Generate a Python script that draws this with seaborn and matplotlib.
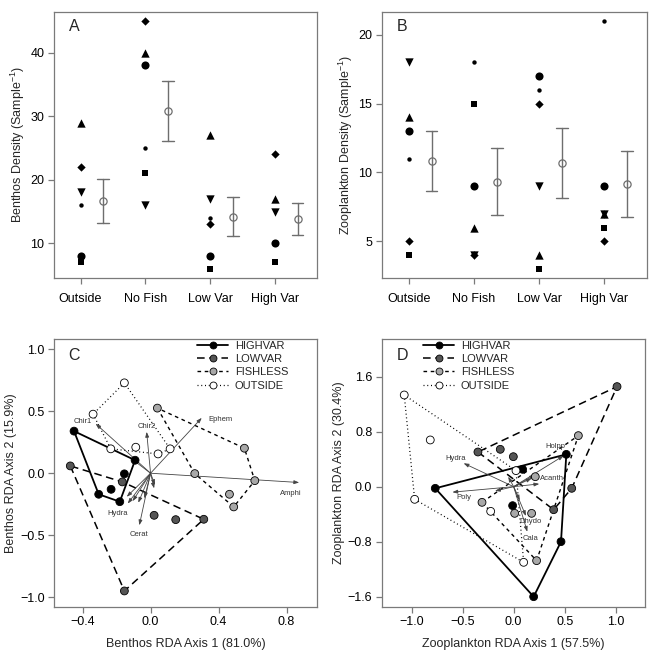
import numpy as np
import pandas as pd
import seaborn as sns
import matplotlib.pyplot as plt
from matplotlib.lines import Line2D

# ---- panels A/B: densities per treatment, one value per pond symbol
categories = ["Outside", "No Fish", "Low Var", "High Var"]

benthos_circle = [8, 38, 8, 10]
benthos_dot = [16, 25, 14, 10]
benthos_up = [29, 40, 27, 17]
benthos_down = [18, 16, 17, 15]
benthos_diamond = [22, 45, 13, 24]
benthos_square = [7, 21, 6, 7]

zoop_circle = [13, 9, 17, 9]
zoop_dot = [11, 18, 16, 21]
zoop_up = [14, 6, 4, 7]
zoop_down = [18, 4, 9, 7]
zoop_diamond = [5, 4, 15, 5]
zoop_square = [4, 15, 3, 6]

# ---- panels C/D: RDA site scores
groups = ["HIGHVAR", "LOWVAR", "FISHLESS", "OUTSIDE"]

benthos_highvar_x = [-0.45, -0.091, -0.154, -0.232, -0.305, -0.181]
benthos_highvar_y = [0.34, 0.105, -0.005, -0.13, -0.17, -0.23]
benthos_lowvar_x = [-0.472, -0.166, 0.021, 0.148, 0.313, -0.154]
benthos_lowvar_y = [0.059, -0.07, -0.34, -0.375, -0.372, -0.951]
benthos_fishless_x = [0.04, 0.552, 0.26, 0.613, 0.464, 0.489]
benthos_fishless_y = [0.526, 0.202, -0.003, -0.06, -0.17, -0.272]
benthos_outside_x = [-0.154, -0.338, -0.234, -0.087, 0.044, 0.115]
benthos_outside_y = [0.73, 0.477, 0.197, 0.21, 0.156, 0.197]

zoop_highvar_x = [-0.768, 0.516, 0.088, -0.01, 0.464, 0.196]
zoop_highvar_y = [-0.024, 0.47, 0.252, -0.276, -0.8, -1.6]
zoop_lowvar_x = [1.013, -0.35, -0.131, -0.003, 0.569, 0.392]
zoop_lowvar_y = [1.455, 0.504, 0.543, 0.436, -0.024, -0.335]
zoop_fishless_x = [0.634, 0.212, -0.31, 0.01, 0.176, 0.225]
zoop_fishless_y = [0.742, 0.145, -0.228, -0.388, -0.388, -1.076]
zoop_outside_x = [-1.072, -0.817, -0.97, -0.225, 0.023, 0.098]
zoop_outside_y = [1.333, 0.679, -0.184, -0.359, 0.233, -1.1]

# species arrows (blank name = unlabeled)
benthos_sp = ["Ephem", "Amphi", "Chir1", "Chir2", "Hydra", "Cerat", "", "", "", "", "", "", ""]
benthos_sp_x = [0.301, 0.874, -0.323, -0.023, -0.134, -0.066, -0.107, -0.14, -0.105, -0.072, -0.036, 0.021, 0.026]
benthos_sp_y = [0.447, -0.075, 0.40, 0.334, -0.245, -0.42, 0.112, -0.19, -0.225, -0.238, -0.203, -0.122, -0.095]

zoop_sp = ["Holpp", "Hydra", "Acanth", "Poly", "Dhydo", "Cala", "", "", "", "", ""]
zoop_sp_x = [0.49, -0.49, 0.251, -0.6, 0.12, 0.134, -0.053, 0.176, 0.209, -0.183, 0.06]
zoop_sp_y = [0.45, 0.34, 0.04, -0.08, -0.426, -0.655, 0.145, 0.122, 0.17, -0.063, -0.2]

sns.set_style("ticks")
plt.rcParams['font.family'] = ['Liberation Sans', 'DejaVu Sans']
plt.rcParams['mathtext.default'] = 'regular'

FS = 9
GRAY = '#7a7a7a'

fig = plt.figure(figsize=(6.56, 6.56), dpi=100)
axA = fig.add_axes([0.0823, 0.5762, 0.4009, 0.4055])
axB = fig.add_axes([0.5823, 0.5762, 0.4035, 0.4055])
axC = fig.add_axes([0.0828, 0.0752, 0.3997, 0.4076])
axD = fig.add_axes([0.5823, 0.0752, 0.4014, 0.4076])


def frame(ax):
    for s in ax.spines.values():
        s.set_color(GRAY)
        s.set_linewidth(0.9)
    ax.tick_params(direction='out', length=4, width=0.9, color=GRAY,
                   labelsize=FS, labelcolor='black', pad=3)


def fmt(ticks):
    return [f"{t:.1f}".replace('-', '\u2212') for t in ticks]


shape_style = {  # marker, area
    'circle': ('o', 34),
    'dot': ('o', 10),
    'up': ('^', 36),
    'down': ('v', 36),
    'diamond': ('D', 18),
    'square': ('s', 20),
}


def density_panel(ax, vals, ylim, yticks, ylabel, letter):
    rows = []
    for shape, v in vals.items():
        for i, val in enumerate(v):
            rows.append({'cat': i, 'shape': shape, 'value': val})
    df = pd.DataFrame(rows)
    for shape, (m, s) in shape_style.items():
        sub = df[df['shape'] == shape]
        sns.scatterplot(data=sub, x='cat', y='value', marker=m, s=s, color='black',
                        linewidth=0, ax=ax, legend=False, zorder=3)
    # mean +/- SE, offset to the right of each group
    df['mpos'] = df['cat'] + 0.35
    sns.pointplot(data=df, x='mpos', y='value', native_scale=True, errorbar='se',
                  capsize=0.18, color='#6e6e6e', linestyle='none', marker='o',
                  markersize=5.2, markerfacecolor='white', markeredgewidth=0.9,
                  err_kws={'linewidth': 1.0}, ax=ax)
    ax.set_xlim(-0.41, 3.65)
    ax.set_xticks(range(4))
    ax.set_xticklabels(categories)
    ax.set_ylim(*ylim)
    ax.set_yticks(yticks)
    ax.set_yticklabels([str(t) for t in yticks])
    ax.set_xlabel('')
    ax.set_ylabel(ylabel, fontsize=FS, labelpad=2)
    ax.text(0.076, 0.944, letter, transform=ax.transAxes, fontsize=11.5,
            ha='center', va='center')
    frame(ax)
    ax.tick_params(axis='x', pad=7)


density_panel(axA, {'circle': benthos_circle, 'dot': benthos_dot, 'up': benthos_up,
                    'down': benthos_down, 'diamond': benthos_diamond, 'square': benthos_square},
              (4.54, 46.4), [10, 20, 30, 40], 'Benthos Density (Sample$^{-1}$)', 'A')
density_panel(axB, {'circle': zoop_circle, 'dot': zoop_dot, 'up': zoop_up,
                    'down': zoop_down, 'diamond': zoop_diamond, 'square': zoop_square},
              (2.34, 21.65), [5, 10, 15, 20], 'Zooplankton Density (Sample$^{-1}$)', 'B')


fills = {'HIGHVAR': 'black', 'LOWVAR': '#555555', 'FISHLESS': '#a8a8a8', 'OUTSIDE': 'white'}
lstyle = {'HIGHVAR': ('-', 1.3), 'LOWVAR': ((0, (5, 3)), 1.1),
          'FISHLESS': ((0, (2.6, 2.6)), 1.0), 'OUTSIDE': ((0, (0.8, 2.2)), 0.9)}


def convex_hull(pts):
    pts = sorted(set(pts))
    def cross(o, a, b):
        return (a[0] - o[0]) * (b[1] - o[1]) - (a[1] - o[1]) * (b[0] - o[0])
    lower, upper = [], []
    for p in pts:
        while len(lower) >= 2 and cross(lower[-2], lower[-1], p) <= 0:
            lower.pop()
        lower.append(p)
    for p in reversed(pts):
        while len(upper) >= 2 and cross(upper[-2], upper[-1], p) <= 0:
            upper.pop()
        upper.append(p)
    h = lower[:-1] + upper[:-1]
    return h + [h[0]]


def rda_panel(ax, sites, sp, spx, spy, offsets, xlim, ylim, xticks, yticks,
              xlabel, ylabel, letter, leg_x):
    rows = []
    for g, (xs, ys) in sites.items():
        for x, y in zip(xs, ys):
            rows.append({'group': g, 'x': x, 'y': y})
    df = pd.DataFrame(rows)
    for g in groups:
        sub = df[df['group'] == g]
        h = np.array(convex_hull(list(zip(sub['x'], sub['y']))))
        ls, lw = lstyle[g]
        ax.plot(h[:, 0], h[:, 1], color='black', linestyle=ls, linewidth=lw, zorder=2)
    sns.scatterplot(data=df, x='x', y='y', hue='group', hue_order=groups, palette=fills,
                    s=32, edgecolor='black', linewidth=0.6, legend=False, ax=ax, zorder=4)
    for name, x, y in zip(sp, spx, spy):
        ax.annotate('', xy=(x, y), xytext=(0, 0),
                    arrowprops=dict(arrowstyle='-|>,head_length=0.5,head_width=0.18',
                                    color='#444444', lw=0.6, shrinkA=0, shrinkB=0,
                                    mutation_scale=6), zorder=3)
        if name:
            ax.annotate(name, xy=(x, y), xytext=offsets[name], textcoords='offset points',
                        fontsize=5.5, color='#333333', ha='center', va='center', zorder=5)
    ax.set_xlim(*xlim)
    ax.set_ylim(*ylim)
    ax.set_xticks(xticks)
    ax.set_xticklabels(fmt(xticks))
    ax.set_yticks(yticks)
    ax.set_yticklabels(fmt(yticks))
    ax.set_xlabel(xlabel, fontsize=FS, labelpad=7)
    ax.set_ylabel(ylabel, fontsize=FS, labelpad=2)
    ax.text(0.076, 0.941, letter, transform=ax.transAxes, fontsize=11.5,
            ha='center', va='center')
    handles = [Line2D([0], [0], color='black', linestyle=lstyle[g][0], linewidth=lstyle[g][1],
                      marker='o', markersize=5, markerfacecolor=fills[g],
                      markeredgecolor='black', markeredgewidth=0.6) for g in groups]
    ax.legend(handles, groups, loc='upper left', bbox_to_anchor=(leg_x, 0.995),
              frameon=False, fontsize=8, handlelength=2.8, handletextpad=0.6,
              labelspacing=0.3, borderpad=0, borderaxespad=0, numpoints=1)
    frame(ax)


rda_panel(axC,
          {'HIGHVAR': (benthos_highvar_x, benthos_highvar_y),
           'LOWVAR': (benthos_lowvar_x, benthos_lowvar_y),
           'FISHLESS': (benthos_fishless_x, benthos_fishless_y),
           'OUTSIDE': (benthos_outside_x, benthos_outside_y)},
          benthos_sp, benthos_sp_x, benthos_sp_y,
          {'Ephem': (13.7, -1.4), 'Amphi': (-6.3, -7.6), 'Chir1': (-9.6, 1.4),
           'Chir2': (0, 4.1), 'Hydra': (-7.5, -7.2), 'Cerat': (0, -6.8)},
          (-0.566, 0.976), (-1.078, 1.082), [-0.4, 0.0, 0.4, 0.8], [-1.0, -0.5, 0.0, 0.5, 1.0],
          'Benthos RDA Axis 1 (81.0%)', 'Benthos RDA Axis 2 (15.9%)', 'C', 0.544)

rda_panel(axD,
          {'HIGHVAR': (zoop_highvar_x, zoop_highvar_y),
           'LOWVAR': (zoop_lowvar_x, zoop_lowvar_y),
           'FISHLESS': (zoop_fishless_x, zoop_fishless_y),
           'OUTSIDE': (zoop_outside_x, zoop_outside_y)},
          zoop_sp, zoop_sp_x, zoop_sp_y,
          {'Holpp': (-6.2, 6.7), 'Hydra': (-5.7, 3.6), 'Acanth': (9.5, 3.6),
           'Poly': (8, -3.9), 'Dhydo': (3.5, -4.3), 'Cala': (2.2, -4.8)},
          (-1.29, 1.29), (-1.745, 2.143), [-1.0, -0.5, 0.0, 0.5, 1.0], [-1.6, -0.8, 0.0, 0.8, 1.6],
          'Zooplankton RDA Axis 1 (57.5%)', 'Zooplankton RDA Axis 2 (30.4%)', 'D', 0.156)

fig.savefig('out.png', dpi=100)
